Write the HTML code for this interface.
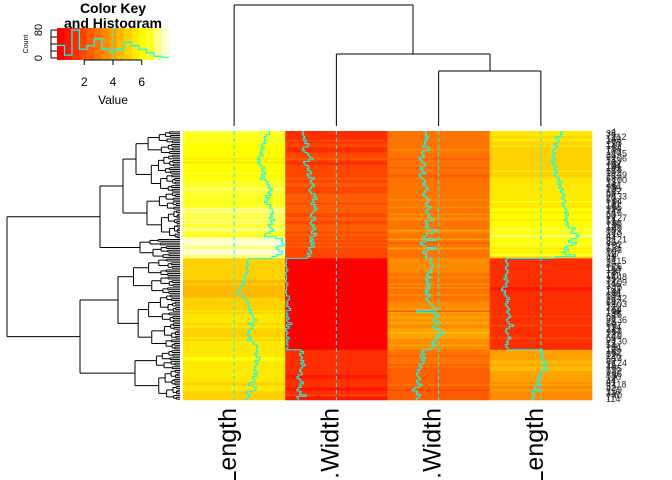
<!DOCTYPE html>
<html><head><meta charset="utf-8"><style>
html,body{margin:0;padding:0;background:#fff;overflow:hidden;width:672px;height:480px;}
svg{display:block;font-family:"Liberation Sans",sans-serif;overflow:hidden;}
</style></head><body>
<svg id="chart" width="672" height="480" viewBox="0 0 672 480" xmlns="http://www.w3.org/2000/svg">
<defs><clipPath id="frame"><rect x="0" y="0" width="672" height="480"/></clipPath></defs>
<text x="113" y="13" font-size="14" font-weight="bold" text-anchor="middle">Color Key</text>
<text x="113" y="28" font-size="14" font-weight="bold" text-anchor="middle">and Histogram</text>
<text x="113" y="104" font-size="12" text-anchor="middle">Value</text>
<text x="28" y="44" font-size="7" text-anchor="middle" transform="rotate(-90 28 44)">Count</text>
<g id="key"></g>
<g id="cells"></g>
<g id="traces"></g>
<g id="coldend" stroke="#000" fill="none" stroke-width="1"></g>
<g id="rowdend" stroke="#000" fill="none" stroke-width="1"></g>
<g id="rowlabels"></g>
<g id="collabels" clip-path="url(#frame)"></g>
</svg>
<script>
const columns = ["Sepal.Length","Petal.Width","Sepal.Width","Petal.Length"];
const sepalLength = [6.7,6.7,6.5,6.3,6.4,6.3,6.4,6.2,6.1,6.3,6.0,6.1,6.0,6.2,5.9,5.8,6.0,5.8,5.9,6.1,6.3,6.1,6.2,6.4,6.1,6.3,6.0,6.4,6.6,6.5,6.7,6.6,6.9,6.7,6.6,6.8,6.4,6.7,6.5,6.3,6.5,6.8,6.7,6.9,6.9,7.0,6.8,6.9,6.7,7.1,6.8,6.9,6.6,6.7,6.9,7.0,6.7,6.4,6.3,7.2,7.7,7.6,7.7,7.9,7.3,7.2,7.4,7.7,7.6,7.2,6.9,
5.1,5.0,5.0,5.1,5.0,4.9,5.0,5.1,4.9,4.8,4.8,4.9,4.7,4.6,4.8,4.6,4.5,4.4,4.4,4.3,4.6,4.7,4.8,5.0,5.1,5.0,5.1,5.2,5.1,5.3,5.2,5.4,5.4,5.5,5.7,5.4,5.1,5.5,5.4,5.2,5.1,5.2,5.0,5.1,5.3,5.0,5.4,5.5,5.7,5.8,5.7,
5.7,5.8,5.6,5.7,6.0,5.9,5.6,5.8,5.7,5.6,5.5,5.6,5.8,5.5,5.7,5.4,5.5,5.6,5.2,5.1,5.5,5.7,5.6,4.9,5.0,5.2,5.1,4.9];
const petalWidth = [1.5,1.4,1.5,1.6,1.5,1.7,1.6,1.9,1.8,1.5,1.4,1.6,1.8,1.9,2.0,2.2,1.9,1.5,1.6,1.8,1.9,1.8,2.0,2.1,1.8,1.9,2.3,2.1,2.0,2.2,2.3,2.1,2.0,1.9,2.1,2.4,2.3,2.5,2.2,2.3,2.1,2.4,2.3,2.5,2.3,2.2,2.1,2.0,2.4,2.3,2.1,2.0,2.3,2.2,2.4,2.2,2.1,2.5,2.3,2.0,2.2,2.0,2.3,2.1,2.3,1.9,2.0,2.1,1.8,2.0,1.8,
0.2,0.2,0.2,0.1,0.2,0.2,0.3,0.2,0.1,0.2,0.2,0.2,0.1,0.2,0.3,0.2,0.2,0.2,0.1,0.2,0.2,0.4,0.4,0.3,0.2,0.3,0.2,0.4,0.5,0.2,0.2,0.3,0.2,0.4,0.2,0.3,0.6,0.2,0.4,0.1,0.2,0.3,0.2,0.2,0.4,0.2,0.3,0.2,0.3,0.3,0.2,
1.3,1.5,1.2,1.3,1.4,1.3,1.5,1.3,1.6,1.4,1.3,1.2,1.3,1.4,1.1,1.0,1.2,1.3,1.5,1.2,1.3,1.1,1.0,1.3,1.2,1.7,1.0,1.1];
const sepalWidth = [3.0,3.1,3.0,3.2,3.0,3.1,2.9,3.0,2.8,3.2,3.3,2.8,2.7,2.8,2.9,2.5,2.7,2.8,3.0,2.9,2.6,2.8,2.7,3.0,2.5,2.6,2.8,2.9,3.0,2.8,3.0,3.1,3.2,3.0,2.9,2.8,3.0,3.1,3.3,3.2,3.0,3.1,3.4,3.2,3.0,3.1,3.3,3.2,3.4,3.6,3.0,3.1,3.2,3.0,3.2,3.8,3.6,3.1,3.0,2.8,3.8,3.0,2.6,2.8,3.0,3.8,3.2,2.8,3.0,3.1,3.0,
3.5,3.4,3.4,3.5,3.6,3.4,3.3,3.5,3.2,3.1,3.4,3.0,3.2,3.1,3.4,3.1,3.3,3.0,3.2,3.0,3.4,3.2,3.0,3.2,3.3,3.4,3.5,3.7,3.8,2.3,3.8,3.7,3.9,3.8,3.6,3.8,4.0,3.7,3.5,3.9,4.1,4.4,4.2,3.8,3.9,3.7,3.6,3.5,3.8,3.6,3.4,
2.8,2.7,2.9,2.6,3.0,2.7,2.9,2.8,2.5,2.7,2.6,2.4,2.5,2.3,2.4,2.5,2.6,2.3,2.4,2.7,2.5,2.2,2.0,2.4,2.3,2.6,2.5,2.3];
const petalLength = [5.6,5.5,5.6,5.1,5.3,5.4,5.2,5.0,5.3,5.1,5.0,4.9,5.1,4.9,5.0,5.1,4.8,5.0,4.9,5.2,5.1,5.0,5.3,5.1,5.0,5.2,5.4,5.3,5.6,5.3,5.5,5.4,5.7,5.5,5.6,5.8,5.7,5.6,5.8,5.9,5.6,5.7,5.8,5.9,6.0,5.8,6.1,5.9,6.0,5.8,6.0,6.1,5.9,6.1,6.6,6.4,6.3,6.7,6.9,6.7,6.3,6.1,6.7,6.4,6.0,5.8,6.1,5.7,5.9,6.6,5.1,
1.4,1.3,1.4,1.5,1.4,1.3,1.4,1.5,1.4,1.3,1.4,1.2,1.5,1.4,1.3,1.4,1.1,1.0,1.3,1.2,1.3,1.4,1.6,1.4,1.5,1.3,1.4,1.5,1.6,1.4,1.5,1.6,1.7,1.5,1.4,1.5,1.6,1.9,1.6,1.4,1.3,1.4,1.5,1.5,1.7,1.5,1.4,1.5,1.3,1.4,1.5,
4.1,4.2,4.0,4.1,4.0,4.2,4.4,4.5,4.2,4.3,4.4,4.5,4.1,4.0,3.9,3.8,3.9,3.8,3.7,3.9,3.6,3.5,3.9,3.3,3.5,3.4,3.5,3.3];
const histCounts = [36,8,80,25,35,55,25,18,25,45,35,25,15,5,2];
const keyTicks = [2,4,6];
const countTicks = [0,80];

const NS="http://www.w3.org/2000/svg";
function mk(tag,attrs,parent){const e=document.createElementNS(NS,tag);for(const k in attrs)e.setAttribute(k,attrs[k]);parent.appendChild(e);return e;}
const data=[sepalLength,petalWidth,sepalWidth,petalLength];
const vmin=0.1,vmax=7.9,nb=15,bw=(vmax-vmin)/nb;
function hsv(h,s,v){const i=Math.floor(h*6),f=h*6-i,p=v*(1-s),q=v*(1-f*s),t=v*(1-(1-f)*s);let r,g,b;switch(i%6){case 0:r=v;g=t;b=p;break;case 1:r=q;g=v;b=p;break;default:r=v;g=v;b=p;}return `rgb(${Math.round(r*255)},${Math.round(g*255)},${Math.round(b*255)})`;}
const pal=[];for(let k=0;k<12;k++)pal.push(hsv(k/11/6,1,1));
[0.8333,0.5,0.1667].forEach(s=>pal.push(hsv(1/6,s,1)));
function colorOf(v){let k=Math.floor((v-vmin)/bw);if(k<0)k=0;if(k>=nb)k=nb-1;return pal[k];}

const X0=183,X1=592,Y0=131,Y1=400,nR=150,nC=4;
const cw=(X1-X0)/nC,rh=(Y1-Y0)/nR;
const xCol=j=>X0+j*cw, yRow=i=>Y0+i*rh;
const xTrace=(j,v)=>xCol(j)+(v-vmin)/(vmax-vmin)*cw;

const cells=document.getElementById('cells');
for(let j=0;j<nC;j++)for(let i=0;i<nR;i++){
  const r=mk('rect',{x:xCol(j),y:yRow(i),width:cw+0.3,height:rh+0.3,fill:colorOf(data[j][i])},cells);
  
  
}
const tr=document.getElementById('traces');
for(let j=0;j<nC;j++){
  const vl=mk('line',{x1:xTrace(j,4.0),x2:xTrace(j,4.0),y1:Y0,y2:Y1,stroke:'#00FFFF','stroke-dasharray':'4,3','stroke-width':1},tr);
  
  
  let d='';
  for(let i=0;i<nR;i++){const x=xTrace(j,data[j][i]);d+=(i===0?'M':'L')+x+','+yRow(i)+'L'+x+','+yRow(i+1);}
  const p=mk('path',{d:d,stroke:'#00FFFF',fill:'none','stroke-width':1},tr);
  
  
}
const cd=document.getElementById('coldend');
const cx=j=>xCol(j)+cw/2;
[[cx(0),126,cx(0),5],[cx(0),5,413,5],[413,5,413,54],
 [cx(1),126,cx(1),54],[cx(1),54,490,54],[490,54,490,71],
 [cx(2),126,cx(2),71],[cx(2),71,cx(3),71],[cx(3),71,cx(3),126]].forEach(s=>{
  const l=mk('line',{x1:s[0],y1:s[1],x2:s[2],y2:s[3]},cd);
  
  
});
const rd=document.getElementById('rowdend');
const LEAFX=180;
function seg(x1,y1,x2,y2){const l=mk('line',{x1:x1,y1:y1,x2:x2,y2:y2},rd);
  
  }
function auto(a,b,x,depth){
  if(a===b)return yRow(a)+rh/2;
  const m=Math.floor((a+b)/2+((depth*7)%3-1)*(b-a)*0.12);
  const mm=Math.min(Math.max(m,a),b-1);
  const f=0.25+((a*13+b*7)%10)/40;
  const cxn=x+(LEAFX-x)*f;
  const y1=auto(a,mm,cxn,depth+1),y2=auto(mm+1,b,cxn+(LEAFX-cxn)*0.1,depth+1);
  const c1=(a===mm)?LEAFX:cxn, c2=(mm+1===b)?LEAFX:cxn+(LEAFX-cxn)*0.1;
  seg(x,y1,c1,y1);seg(x,y2,c2,y2);seg(x,y1,x,y2);
  return (y1+y2)/2;
}
function node(x,kids){
  kids.forEach(k=>seg(x,k.y,k.x,k.y));seg(x,kids[0].y,x,kids[kids.length-1].y);
  return {y:(kids[0].y+kids[kids.length-1].y)/2,x:x};
}
function leafNode(a,b,x){return {y:auto(a,b,x,0),x:x};}
const A1=node(123,[leafNode(0,33,136),leafNode(34,59,147)]);
const A=node(100,[A1,leafNode(60,70,140)]);
const B=node(80,[leafNode(71,121,118),leafNode(122,149,135)]);
node(7,[A,B]);
const rl=document.getElementById('rowlabels');
for(let i=0;i<nR;i++){
  const t=mk('text',{x:(i%3===0? 612:606),y:yRow(i)+rh+2,'font-size':9,fill:'#222'},rl);
  t.textContent=String(((i*37)%150)+1);
  
  
}
const cl=document.getElementById('collabels');
for(let j=0;j<nC;j++){
  const x=cx(j)+2,y=408;
  const t=mk('text',{x:x,y:y,'font-size':25,'text-anchor':'end',transform:`rotate(-90 ${x} ${y})`,fill:'#000'},cl);
  t.textContent=columns[j];
  
  
}
const key=document.getElementById('key');
const KX0=57,KX1=169,KY0=28,KY1=60;
const kx=v=>KX0+(v-vmin)/(vmax-vmin)*(KX1-KX0);
const ky=c=>58-c*0.35;
for(let k=0;k<nb;k++){const r=mk('rect',{x:kx(vmin+k*bw),y:KY0,width:(KX1-KX0)/nb+0.4,height:KY1-KY0,fill:pal[k]},key);
  }
let hd='';histCounts.forEach((c,k)=>{const xa=kx(vmin+k*bw),xb=kx(vmin+(k+1)*bw);hd+=(k===0?'M':'L')+xa+','+ky(c)+'L'+xb+','+ky(c);});
const hp=mk('path',{d:hd,stroke:'#00FFFF',fill:'none','stroke-width':1.2},key);

const kv=mk('line',{x1:kx(4),x2:kx(4),y1:KY0,y2:KY1,stroke:'#00FFFF','stroke-dasharray':'3,2'},key);

mk('line',{x1:kx(keyTicks[0]),x2:kx(keyTicks[keyTicks.length-1]),y1:KY1,y2:KY1,stroke:'#000'},key);
keyTicks.forEach(v=>{mk('line',{x1:kx(v),x2:kx(v),y1:KY1,y2:KY1+5,stroke:'#000'},key);
  const t=mk('text',{x:kx(v),y:86,'font-size':12,'text-anchor':'middle'},key);t.textContent=v;
  });
mk('line',{x1:51,x2:51,y1:ky(countTicks[0]),y2:ky(countTicks[1]),stroke:'#000'},key);
[0,20,40,60,80].forEach(c=>mk('line',{x1:51,x2:KX0,y1:ky(c),y2:ky(c),stroke:'#000'},key));
countTicks.forEach(c=>{const t=mk('text',{x:42,y:ky(c),'font-size':11,'text-anchor':'middle',transform:`rotate(-90 42 ${ky(c)})`},key);t.textContent=c;
  });
</script>
</body></html>
